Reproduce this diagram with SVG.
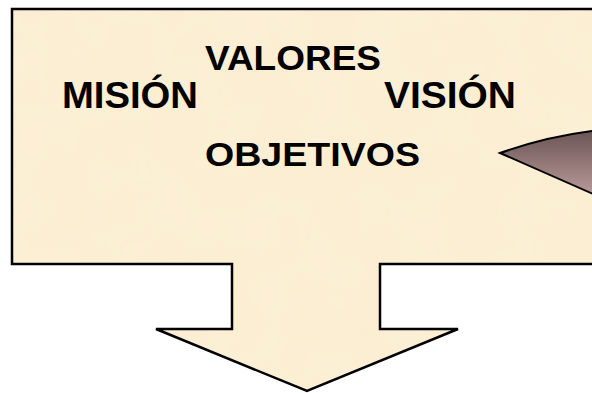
<svg xmlns="http://www.w3.org/2000/svg" width="592" height="393" viewBox="0 0 592 393">
  <style>
    .lbl { font-family: "Liberation Sans", Arial, sans-serif; font-weight: bold; fill: #000; }
    .edge { stroke: #000; stroke-width: 2.5; stroke-linejoin: miter; }
  </style>
  <defs>
    <linearGradient id="wedge" x1="0" y1="0" x2="0" y2="1">
      <stop offset="0" stop-color="#6a5454"/>
      <stop offset="1" stop-color="#bc9c9c"/>
    </linearGradient>
    <filter id="paper" x="0" y="0" width="100%" height="100%">
      <feTurbulence type="fractalNoise" baseFrequency="0.02" numOctaves="2" seed="3" result="n"/>
      <feColorMatrix in="n" type="matrix" values="0 0 0 0 0.98  0 0 0 0 0.91  0 0 0 0 0.78  0 0 0 0.35 0" result="c"/>
      <feComposite in="c" in2="SourceGraphic" operator="in"/>
    </filter>
  </defs>
  <rect width="592" height="393" fill="#fff"/>
  <g id="panel">
    <path d="M12,9 H600 V264 H380 V329 H458 L307,391 L156,329 H232 V264 H12 Z" fill="#fbedd0"/>
    <path d="M12,9 H600 V264 H380 V329 H458 L307,391 L156,329 H232 V264 H12 Z" fill="#fbedd0" filter="url(#paper)"/>
    <path d="M12,9 H600 V264 H380 V329 H458 L307,391 L156,329 H232 V264 H12 Z" fill="none" class="edge"/>
  </g>
  <g id="valores"><text class="lbl" x="205" y="70" font-size="35" textLength="176" lengthAdjust="spacingAndGlyphs">VALORES</text></g>
  <g id="mision"><text class="lbl" x="62" y="108" font-size="36" textLength="136" lengthAdjust="spacingAndGlyphs">MISIÓN</text></g>
  <g id="vision"><text class="lbl" x="384" y="108" font-size="36" textLength="132" lengthAdjust="spacingAndGlyphs">VISIÓN</text></g>
  <g id="objetivos"><text class="lbl" x="205" y="166" font-size="34" textLength="215" lengthAdjust="spacingAndGlyphs">OBJETIVOS</text></g>
  <g id="pointer">
    <path d="M600,130 L592,131 Q545,137 500,153 L600,197" fill="url(#wedge)" stroke="#000" stroke-width="2"/>
  </g>
</svg>
